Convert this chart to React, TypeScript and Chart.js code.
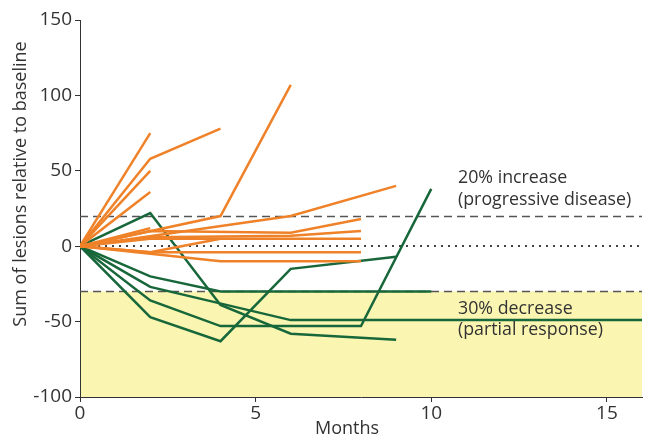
import { useEffect, useRef } from 'react';
import { Chart, registerables } from 'chart.js';

Chart.register(...registerables);

// Tick values
const xTicks = [0, 5, 10, 15];
const yTicks = [-100, -50, 0, 50, 100, 150];

// Orange series (progressive / stable disease): [month, % change]
const o1 = [[0, 0], [2, 75]];
const o2 = [[0, 0], [2, 58], [4, 78]];
const o3 = [[0, 0], [2, 50]];
const o4 = [[0, 0], [2, 36]];
const o5 = [[0, 0], [4, 20], [6, 107]];
const o6 = [[0, 0], [6, 20], [9, 40]];
const o7 = [[0, 0], [2, 12]];
const o8 = [[0, 0], [2, 10], [6, 9], [8, 18]];
const o9 = [[0, 0], [2, 6], [6, 7], [8, 10]];
const o10 = [[0, 0], [2, 5], [8, 5]];
const o11 = [[0, 0], [2, -4], [4, 5]];
const o12 = [[0, 0], [2, -4], [8, -4]];
const o13 = [[0, 0], [4, -10], [8, -10]];

// Green series (responders)
const g1 = [[0, 0], [2, 22], [4, -39], [6, -58], [9, -62]];
const g2 = [[0, 0], [2, -20], [4, -30], [10, -30]];
const g3 = [[0, 0], [2, -27], [6, -49], [16, -49]];
const g4 = [[0, 0], [2, -36], [4, -53], [8, -53], [10, 38]];
const g5 = [[0, 0], [2, -47], [4, -63], [6, -15], [9, -7]];

const orangeSeries = [o1, o2, o3, o4, o5, o6, o7, o8, o9, o10, o11, o12, o13];
const greenSeries = [g1, g2, g3, g4, g5];

// Threshold lines
const increaseLevel = 20;
const decreaseLevel = -30;
const xMax = 16;
const yMin = -100;
const yMax = 150;

const ORANGE = '#EF8229';
const GREEN = '#17673A';
const YELLOW = '#FAF6B2';
const TEXT = '#333333';
const FONT = '"Open Sans", "DejaVu Sans", sans-serif';

export default function App() {
  const ref = useRef<HTMLCanvasElement | null>(null);

  useEffect(() => {
    const canvas = ref.current;
    if (!canvas) return;

    const toData = (s: number[][]) => s.map(([x, y]) => ({ x, y }));
    const datasets: any[] = [
      ...orangeSeries.map((s, i) => ({
        label: 'o' + i,
        data: toData(s),
        borderColor: ORANGE,
        borderWidth: 2.5,
        pointRadius: 0,
        tension: 0,
        fill: false,
      })),
      ...greenSeries.map((s, i) => ({
        label: 'g' + i,
        data: toData(s),
        borderColor: GREEN,
        borderWidth: 2.5,
        pointRadius: 0,
        tension: 0,
        fill: false,
      })),
    ];

    const decor = {
      id: 'decor',
      beforeDraw(chart: any) {
        const { ctx, chartArea } = chart;
        const xs = chart.scales.x;
        const ys = chart.scales.y;
        ctx.save();
        ctx.fillStyle = YELLOW;
        const top = ys.getPixelForValue(decreaseLevel);
        const bottom = ys.getPixelForValue(yMin);
        const left = xs.getPixelForValue(0);
        ctx.fillRect(left, top, chartArea.right - left, bottom - top);
        ctx.restore();
      },
      beforeDatasetsDraw(chart: any) {
        const { ctx, chartArea } = chart;
        const ys = chart.scales.y;
        ctx.save();
        ctx.strokeStyle = '#555555';
        ctx.lineWidth = 1.5;
        ctx.setLineDash([8, 5]);
        for (const v of [increaseLevel, decreaseLevel]) {
          const py = Math.round(ys.getPixelForValue(v)) + 0.5;
          ctx.beginPath();
          ctx.moveTo(chartArea.left, py);
          ctx.lineTo(chartArea.right, py);
          ctx.stroke();
        }
        ctx.strokeStyle = '#444444';
        ctx.lineWidth = 2;
        ctx.setLineDash([2, 5]);
        const p0 = Math.round(ys.getPixelForValue(0));
        ctx.beginPath();
        ctx.moveTo(chartArea.left + 4, p0);
        ctx.lineTo(chartArea.right, p0);
        ctx.stroke();
        ctx.restore();
      },
      afterDraw(chart: any) {
        const { ctx } = chart;
        ctx.save();
        ctx.fillStyle = TEXT;
        ctx.textBaseline = 'middle';
        ctx.textAlign = 'left';
        ctx.font = '17.8px ' + FONT;
        ctx.fillText('20% increase', 458, 178);
        ctx.fillText('(progressive disease)', 458, 200);
        ctx.fillText('30% decrease', 458, 309);
        ctx.fillText('(partial response)', 458, 330);
        ctx.font = '18px ' + FONT;
        ctx.textAlign = 'center';
        ctx.fillText('Months', 347, 429);
        ctx.translate(21, 184);
        ctx.rotate(-Math.PI / 2);
        ctx.fillText('Sum of lesions relative to baseline', 0, 0);
        ctx.restore();
      },
    };

    const chart = new Chart(canvas, {
      type: 'line',
      data: { datasets },
      options: {
        animation: false,
        responsive: false,
        maintainAspectRatio: false,
        layout: { padding: { top: 20, right: 3, left: 0, bottom: 0 } },
        plugins: {
          legend: { display: false },
          tooltip: { enabled: false },
        },
        scales: {
          x: {
            type: 'linear',
            min: 0,
            max: xMax,
            afterFit: (s: any) => { s.height = 41; },
            afterBuildTicks: (s: any) => { s.ticks = xTicks.map((v) => ({ value: v })); },
            grid: { drawOnChartArea: false, drawTicks: true, tickLength: 5, color: TEXT },
            border: { display: true, color: TEXT, width: 1 },
            ticks: { color: TEXT, font: { family: FONT, size: 19 }, padding: 0, maxRotation: 0 },
          },
          y: {
            type: 'linear',
            min: yMin,
            max: yMax,
            afterFit: (s: any) => { s.width = 80; },
            afterBuildTicks: (s: any) => { s.ticks = yTicks.map((v) => ({ value: v })); },
            grid: { drawOnChartArea: false, drawTicks: true, tickLength: 5, color: TEXT },
            border: { display: true, color: TEXT, width: 1 },
            ticks: { color: TEXT, font: { family: FONT, size: 19 }, padding: 3 },
          },
        },
      },
      plugins: [decor],
    });

    return () => chart.destroy();
  }, []);

  return (
    <div style={{ position: 'fixed', left: 0, top: 0, width: 645, height: 438, background: '#fff' }}>
      <canvas ref={ref} width={645} height={438} style={{ display: 'block' }} />
    </div>
  );
}
